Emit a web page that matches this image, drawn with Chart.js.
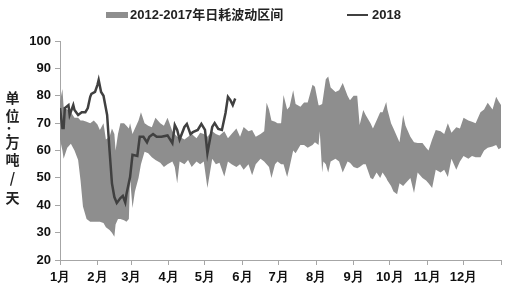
<!DOCTYPE html>
<html lang="zh">
<head>
<meta charset="UTF-8" />
<title>日耗波动区间</title>
<script src="https://cdn.jsdelivr.net/npm/chart.js"></script>
<style>
  html, body { margin: 0; padding: 0; background: #fff; }
  #wrap { position: relative; width: 506px; height: 297px; font-family: "Liberation Sans", Arial, "Noto Sans CJK SC", sans-serif; }
  #chart { position: absolute; left: 0; top: 0; }
  .lg { position: absolute; font-weight: bold; font-size: 13px; color: #222; line-height: 14px; white-space: nowrap; }
  .box { position: absolute; left: 106px; top: 12px; width: 22px; height: 6px; background: #8e8e8e; }
  .ln { position: absolute; left: 347px; top: 14px; width: 21px; height: 2px; background: #404040; }
  .yt { position: absolute; left: 4px; width: 17px; text-align: center; font-family: "Noto Sans CJK SC", sans-serif; font-weight: bold; font-size: 14px; line-height: 14px; color: #222; }
</style>
</head>
<body>
<div id="wrap">
  <canvas id="chart" width="506" height="297"></canvas>
  <div class="box"></div>
  <div class="lg" style="left:130px; top:8px;">2012-2017年日耗波动区间</div>
  <div class="ln"></div>
  <div class="lg" style="left:372px; top:8px;">2018</div>
  <div class="yt" style="top:90px;">单</div>
  <div class="yt" style="top:108px;">位</div>
  <div class="yt" style="top:123px;">：</div>
  <div class="yt" style="top:135px;">万</div>
  <div class="yt" style="top:152px;">吨</div>
  <div class="yt" style="top:170px;">/</div>
  <div class="yt" style="top:190px;">天</div>
</div>
<script>
// ---- data (x = day of year, 0 = 1月1日) ----
const monthLabels = ["1月","2月","3月","4月","5月","6月","7月","8月","9月","10月","11月","12月",""];
const monthStarts = [0,31,59,90,120,151,181,212,243,273,304,334,365];
const yTicks = [20,30,40,50,60,70,80,90,100];

const bandDays = [0,2,3,6,9,12,15,17,19,22,25,28,31,33,36,38,41,43,45,46,48,50,53,55,57,58,60,62,65,67,70,73,76,79,83,86,89,93,95,97,99,103,106,109,113,116,119,122,126,129,132,136,139,142,146,149,152,156,159,162,166,169,171,173,175,178,180,183,185,188,190,193,195,199,202,205,209,211,214,215,217,218,220,222,224,228,231,234,238,240,243,246,248,251,253,257,259,262,265,267,270,271,274,276,279,281,284,286,290,293,296,300,303,305,308,311,315,318,321,324,328,331,334,338,341,344,348,351,354,358,361,363,365];
const bandHigh = [78,82.5,76,75,74,72,72,71,71,70.5,70,71,69.5,67.5,70,64,65,68,66,60,66,70,70,69,68,70,66,68,71,74,70,69,68.5,72,70,69,72,67,66,65,65,64,65,66,64.5,66.5,66,65,67,66,65.5,67,64.5,66,68,65,68.6,67,67.5,65,66,67,77.4,75,71,70.5,70,70,80.3,75,76,82,77,76,77.5,77.5,84,83.3,76.5,76.5,77,80,86,87,83,81.4,82,84.7,80,78.4,80,80,69.3,74.8,73,70,68,71,74,74,77.7,75,70,68,65,63,73,69,65,63,62.7,62.7,61,60,64,67.5,67,66,70,66.5,68.5,68,72,71,70.5,70,74,75,77.4,75,79.6,78,76.6];
const bandLow = [64,60,57,61,62.5,60,56.5,49,39.5,35,34,34,34,34,33.5,32,31,30,28.5,33,35,35,34.5,34,35,50,39,45,50,55,59.5,59,57.5,56.5,55.5,54,55,56,54,48,56,55,56.5,54,56,55,56,46.3,57,55,55.5,50.5,56,55,54,55,53,55,51,55,57,56,55,54,50,55,56,55,55,50.3,54,60,59,62,62,61,62,63,62,67,52,56,55,52,56,57,56,52,56,55.5,54,53.5,54,55,55,50,49.5,52,50,52,50,49,47,45,44,48,47,48,50,44.5,52,50,49,48,46.3,53,52,53,50.3,57,53,56,58,57,58,57.5,57.5,60,61,61.5,62,60.5,61];

const days2018 = [0,2,3,4,7,8,11,12,15,18,21,23,25,26,29,31,32,34,36,39,41,43,45,47,50,52,54,55,58,60,64,66,69,72,74,77,80,84,89,93,95,97,99,103,105,108,110,114,117,120,122,126,128,131,134,137,139,141,143,145];
const values2018 = [75.5,68.2,68.2,75.5,76.6,73,76.6,74.8,73,74,74,75.5,79.6,80.7,81.4,84,85.8,81.4,80,73,60,48,43,40.8,42.6,43.4,41,44,50.3,58.4,58,65,65,63,65,66,65,65,65.5,62.7,69.3,67.5,64,68.6,69.7,66,66.7,67.5,69.7,67.5,59,68.6,70,67.9,67.5,73.7,79.6,78.4,76.6,79];

// ---- chart ----
const pts = (xs, ys) => xs.map((x, i) => ({ x, y: ys[i] }));
const axisGray = "#a6a6a6";
const tickFont = { family: "'Liberation Sans', Arial, sans-serif", size: 13, weight: "bold" };

new Chart(document.getElementById("chart"), {
  type: "line",
  data: {
    datasets: [
      { label: "low", data: pts(bandDays, bandLow), borderWidth: 0, pointRadius: 0, fill: false, tension: 0, order: 2 },
      { label: "2012-2017年日耗波动区间", data: pts(bandDays, bandHigh), borderWidth: 0, pointRadius: 0,
        fill: "-1", backgroundColor: "#8e8e8e", tension: 0, order: 2 },
      // drawn last so it sits on top of the band
      { label: "2018", data: pts(days2018, values2018), borderColor: "#404040", borderWidth: 2.5,
        pointRadius: 0, fill: false, tension: 0, order: 0 }
    ]
  },
  options: {
    responsive: false,
    animation: false,
    events: [],
    layout: { padding: { top: 41, right: 5, bottom: 0, left: 0 } },
    plugins: { legend: { display: false }, tooltip: { enabled: false } },
    scales: {
      x: {
        type: "linear", min: 0, max: 365,
        afterBuildTicks: (s) => { s.ticks = monthStarts.map(v => ({ value: v })); },
        afterFit: (s) => { s.height = 37; },
        ticks: {
          autoSkip: false, maxRotation: 0, padding: 5, color: "#111", font: tickFont,
          callback: (v) => monthLabels[monthStarts.indexOf(v)]
        },
        grid: { drawOnChartArea: false, drawTicks: true, tickLength: 5, color: axisGray },
        border: { color: axisGray }
      },
      y: {
        min: 20, max: 100,
        afterBuildTicks: (s) => { s.ticks = yTicks.map(v => ({ value: v })); },
        afterFit: (s) => { s.width = 60; },
        ticks: { padding: 4, color: "#111", font: tickFont },
        grid: { drawOnChartArea: false, drawTicks: true, tickLength: 5, color: axisGray },
        border: { color: axisGray }
      }
    }
  }
});
</script>
</body>
</html>
